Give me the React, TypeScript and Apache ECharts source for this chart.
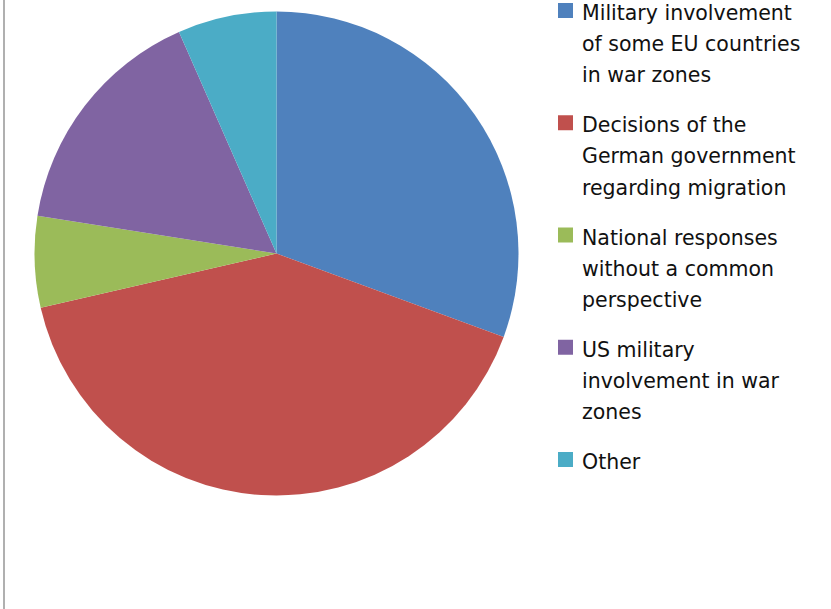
import React, { useEffect, useRef } from "react";
import * as echarts from "echarts";

const categories = [
  "Military involvement of some EU countries in war zones",
  "Decisions of the German government regarding migration",
  "National responses without a common perspective",
  "US military involvement in war zones",
  "Other",
];

const legendLines = [
  ["Military involvement", "of some EU countries", "in war zones"],
  ["Decisions of the", "German government", "regarding migration"],
  ["National responses", "without a common", "perspective"],
  ["US military", "involvement in war", "zones"],
  ["Other"],
];

const values = [30.6, 40.8, 6.1, 15.9, 6.6];

const colors = ["#4F81BD", "#C0504D", "#9BBB59", "#8064A2", "#4BACC6"];

export default function App() {
  const ref = useRef<HTMLDivElement>(null);

  useEffect(() => {
    if (!ref.current) return;
    const chart = echarts.init(ref.current, undefined, { renderer: "svg" });

    const lineHeight = 31.2;
    const itemGap = 18.65;
    const graphics: any[] = [
      {
        type: "rect",
        shape: { x: 3, y: 0, width: 2, height: 609 },
        style: { fill: "#b0b0b0" },
        silent: true,
      },
    ];
    let top = 13;
    legendLines.forEach((lines, i) => {
      graphics.push({
        type: "rect",
        shape: { x: 558, y: top - 10, width: 15, height: 15 },
        style: { fill: colors[i] },
        silent: true,
      });
      lines.forEach((line, k) => {
        graphics.push({
          type: "text",
          x: 582,
          y: top + k * lineHeight,
          style: {
            text: line,
            fontFamily: "DejaVu Sans",
            fontSize: 20.5,
            lineHeight: 22,
            fill: "#111111",
            align: "left",
            verticalAlign: "middle",
          },
          silent: true,
        });
      });
      top += lines.length * lineHeight + itemGap;
    });

    chart.setOption({
      animation: false,
      backgroundColor: "#ffffff",
      color: colors,
      graphic: graphics,
      series: [
        {
          type: "pie",
          center: [276.5, 253.5],
          radius: 242,
          startAngle: 90,
          clockwise: true,
          label: { show: false },
          labelLine: { show: false },
          itemStyle: { borderWidth: 0 },
          emphasis: { disabled: true },
          silent: true,
          data: categories.map((name, i) => ({ name, value: values[i] })),
        },
      ],
    });

    return () => chart.dispose();
  }, []);

  return (
    <div
      ref={ref}
      style={{ position: "fixed", left: 0, top: 0, width: 831, height: 609 }}
    />
  );
}
